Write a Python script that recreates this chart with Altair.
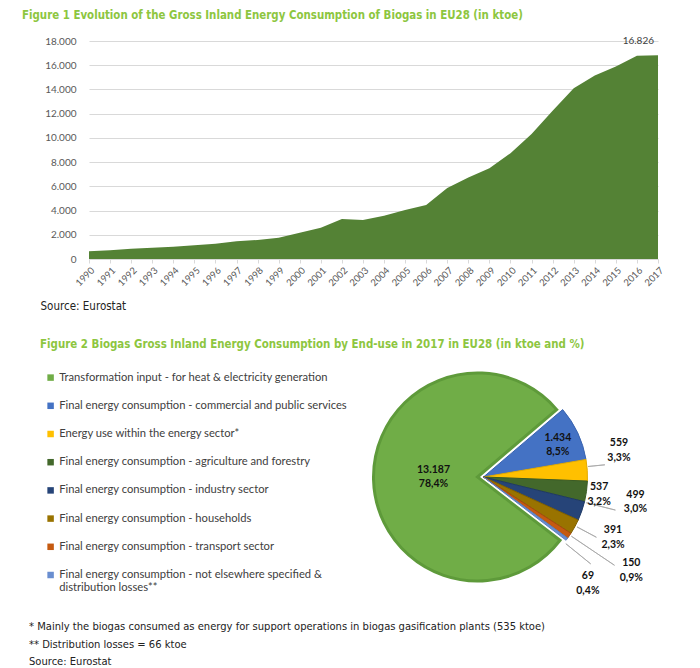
import math

import altair as alt
import pandas as pd

# ---- Figure 1: gross inland energy consumption of biogas, EU28 (ktoe) ----
years = list(range(1990, 2018))
gross_inland_ktoe = [650, 720, 850, 935, 1015, 1130, 1265, 1460, 1570, 1760,
                     2160, 2590, 3300, 3220, 3580, 4050, 4460, 5870, 6720, 7500,
                     8730, 10330, 12250, 14100, 15150, 15900, 16780, 16826]
y_ticks = list(range(0, 18001, 2000))

# ---- Figure 2: biogas gross inland consumption by end-use, 2017 (ktoe) ----
end_uses = [
    "Transformation input - for heat & electricity generation",
    "Final energy consumption - commercial and public services",
    "Energy use within the energy sector*",
    "Final energy consumption - agriculture and forestry",
    "Final energy consumption - industry sector",
    "Final energy consumption - households",
    "Final energy consumption  - transport sector",
    "Final energy consumption - not elsewhere specified &\ndistribution losses**",
]
end_use_ktoe = [13187, 1434, 559, 537, 499, 391, 150, 69]

footnotes = [
    "* Mainly the biogas consumed as energy for support operations in biogas gasification plants (535 ktoe)",
    "** Distribution losses = 66 ktoe",
    "Source: Eurostat",
]

# ---- styling ----
slice_fill = ["#70AD47", "#4472C4", "#FFC000", "#43682B", "#264478", "#997300", "#C55A11", "#698ED0"]
slice_edge = ["#5E9A3A", "#3A64B0", "#E3AB00", "#3A5B25", "#1F3A66", "#7F6000", "#A44A0E", "#5B7FC0"]
# label placement: (angular nudge from slice middle in degrees, distance from centre in px)
label_place = [(1.6, 50), (1.7, 81), (-7.3, 138), (0.7, 117), (-9.7, 154), (-3.5, 143), (-2.0, 175), (8.8, 149)]
# leader lines for outside labels: slice index -> (angular nudge in degrees, inner px, outer px)
leader_place = {2: (-2.0, 105, 122), 4: (-5.0, 106, 136), 5: (-0.5, 106, 128),
                6: (-0.4, 106, 158), 7: (2.3, 106, 138)}

HEAD_FONT = "Liberation Sans Narrow, DejaVu Sans Condensed, sans-serif"
BODY_FONT = "Lato"
TITLE_GREEN = "#8DC63F"
PANEL_W = 569
PIE_START_DEG = 127.46
PIE_RADIUS = 104
PIE_SHIFT = 110      # pie sits right of centre, leaving room for the legend
EXPLODE = 6          # how far the dominant slice is pulled out
LABEL_LH = 14.5      # line height of the two-line slice labels


def thousands(v):
    return f"{v:,}".replace(",", ".")


def percent(x):
    return f"{x:.1f}".replace(".", ",") + "%"


# ---------------- area chart ----------------
area_df = pd.DataFrame({"year": years, "ktoe": gross_inland_ktoe})

x_enc = alt.X(
    "year:Q",
    scale=alt.Scale(domain=[years[0], years[-1]], nice=False, zero=False),
    axis=alt.Axis(
        values=years, format="d", labelAngle=-45, labelFont=BODY_FONT, labelFontSize=9.5,
        labelColor="#595959", labelPadding=2, labelOverlap=False, tickColor="#D9D9D9", tickSize=4,
        domainColor="#D9D9D9", grid=False, zindex=1,
        title="Source: Eurostat", titleFont=HEAD_FONT, titleFontWeight="normal",
        titleFontSize=11.5, titleColor="#222222", titleX=-49, titleY=47,
        titleAlign="left", titleBaseline="middle",
    ),
)
y_enc = alt.Y(
    "ktoe:Q",
    scale=alt.Scale(domain=[0, 18000], nice=False),
    axis=alt.Axis(
        values=y_ticks, labelExpr="replace(format(datum.value, ','), ',', '.')",
        title=None, domain=False, ticks=False, tickSize=0, labelPadding=13,
        labelOverlap=False, labelFont=BODY_FONT, labelFontSize=10, labelColor="#595959",
        gridColor="#D9D9D9", gridWidth=1,
    ),
)

area = alt.Chart(area_df).mark_area(color="#548235").encode(x=x_enc, y=y_enc)

last_point = area_df.tail(1).copy()
last_point["label"] = last_point["ktoe"].map(thousands)
end_label = alt.Chart(last_point).mark_text(
    align="right", baseline="middle", dx=-4, dy=-14,
    font=BODY_FONT, fontSize=10, color="#404040",
).encode(x=x_enc, y=y_enc, text="label:N")

top = alt.layer(area, end_label).properties(width=PANEL_W, height=218)

# ---------------- pie chart ----------------
total = sum(end_use_ktoe)
rows, leaders = [], []
running = 0
for i, (use, v) in enumerate(zip(end_uses, end_use_ktoe)):
    middle = running + v / 2
    nudge, dist = label_place[i]
    rows.append({
        "use": use,
        "ktoe": v,
        "rank": i,
        "label": f"{thousands(v)}\n{percent(100 * v / total)}",
        "lab_theta": (middle + nudge / 360 * total) % total,
        "lab_r": dist,
    })
    if i in leader_place:
        l_nudge, r_in, r_out = leader_place[i]
        leaders.append({"use": use, "at": (middle + l_nudge / 360 * total) % total,
                        "r_in": r_in, "r_out": r_out})
    running += v
pie_df = pd.DataFrame(rows)
leader_df = pd.DataFrame(leaders)

start = math.radians(PIE_START_DEG)
theta_scale = alt.Scale(domain=[0, total], range=[start, start + 2 * math.pi], nice=False, zero=False)

legend = alt.Legend(
    title=None, orient="none", legendX=-44, legendY=12, direction="vertical",
    symbolType="square", symbolSize=42, symbolStrokeWidth=0,
    labelFont=BODY_FONT, labelFontSize=11.2, labelColor="#404040", labelLimit=400,
    labelOffset=3, rowPadding=16.2, padding=0,
    labelExpr="split(datum.label, '\\n')",
)

slices = (
    alt.Chart(pie_df)
    .transform_window(end="sum(ktoe)", sort=[alt.SortField("rank")], frame=[None, 0])
    .transform_calculate(start="datum.end - datum.ktoe")
)
arc_enc = dict(
    theta=alt.Theta("start:Q", scale=theta_scale),
    theta2="end:Q",
    color=alt.Color("use:N", scale=alt.Scale(domain=end_uses, range=slice_fill), legend=legend),
    stroke=alt.Stroke("use:N", scale=alt.Scale(domain=end_uses, range=slice_edge), legend=None),
)
# the dominant slice is pulled slightly out of the pie
main_slice = slices.transform_filter("datum.rank == 0").mark_arc(
    outerRadius=PIE_RADIUS, xOffset=PIE_SHIFT - EXPLODE, strokeWidth=3
).encode(**arc_enc)
other_slices = slices.transform_filter("datum.rank > 0").mark_arc(
    outerRadius=PIE_RADIUS, xOffset=PIE_SHIFT, strokeWidth=1
).encode(**arc_enc)

# thin radial leader lines (zero-width arcs stroked in grey)
leader_lines = alt.Chart(leader_df).mark_arc(
    xOffset=PIE_SHIFT, stroke="#A6A6A6", strokeWidth=0.8, fillOpacity=0,
).encode(
    theta=alt.Theta("at:Q", scale=theta_scale),
    theta2="at:Q",
    radius=alt.Radius("r_out:Q", scale=None),
    radius2="r_in:Q",
)

# two-line labels: lift by half a line so the pair is centred on its anchor
slice_labels = alt.Chart(pie_df).mark_text(
    font=BODY_FONT, fontSize=10.5, fontWeight="bold", color="#111111",
    lineBreak="\n", lineHeight=LABEL_LH, align="center", baseline="middle",
    xOffset=PIE_SHIFT, dy=-LABEL_LH / 2,
).encode(
    theta=alt.Theta("lab_theta:Q", scale=theta_scale, stack=False),
    radius=alt.Radius("lab_r:Q", scale=None),
    text="label:N",
)

pie = alt.layer(main_slice, other_slices, leader_lines, slice_labels).properties(
    width=PANEL_W, height=234,
    title=alt.TitleParams(
        "Figure 2 Biogas Gross Inland Energy Consumption by End-use in 2017 in EU28 (in ktoe and %)",
        anchor="start", frame="group", dx=-49, offset=10,
        font=HEAD_FONT, fontSize=11.43, fontWeight="bold", color=TITLE_GREEN,
    ),
)

inner = (
    alt.vconcat(top, pie, spacing=26)
    .properties(
        title=alt.TitleParams(
            footnotes, orient="bottom", anchor="start", frame="bounds", dx=-11, offset=25,
            font=HEAD_FONT, fontSize=11.1, fontWeight="normal", color="#222222", lineHeight=17.5,
        )
    )
    .resolve_legend(color="independent", stroke="independent")
    .resolve_scale(color="independent", stroke="independent", theta="independent")
)

chart = (
    alt.vconcat(inner)
    .properties(
        title=alt.TitleParams(
            "Figure 1 Evolution of the Gross Inland Energy Consumption of Biogas in EU28 (in ktoe)",
            anchor="start", frame="bounds", dx=-7, offset=15,
            font=HEAD_FONT, fontSize=11.4, fontWeight="bold", color=TITLE_GREEN,
        ),
        padding={"left": 22, "top": 9, "right": 5, "bottom": 5},
    )
    .resolve_legend(color="independent", stroke="independent")
    .configure(background="white")
    .configure_view(stroke=None)
)

chart.save("out.html", embed_options={"renderer": "svg", "actions": False})
